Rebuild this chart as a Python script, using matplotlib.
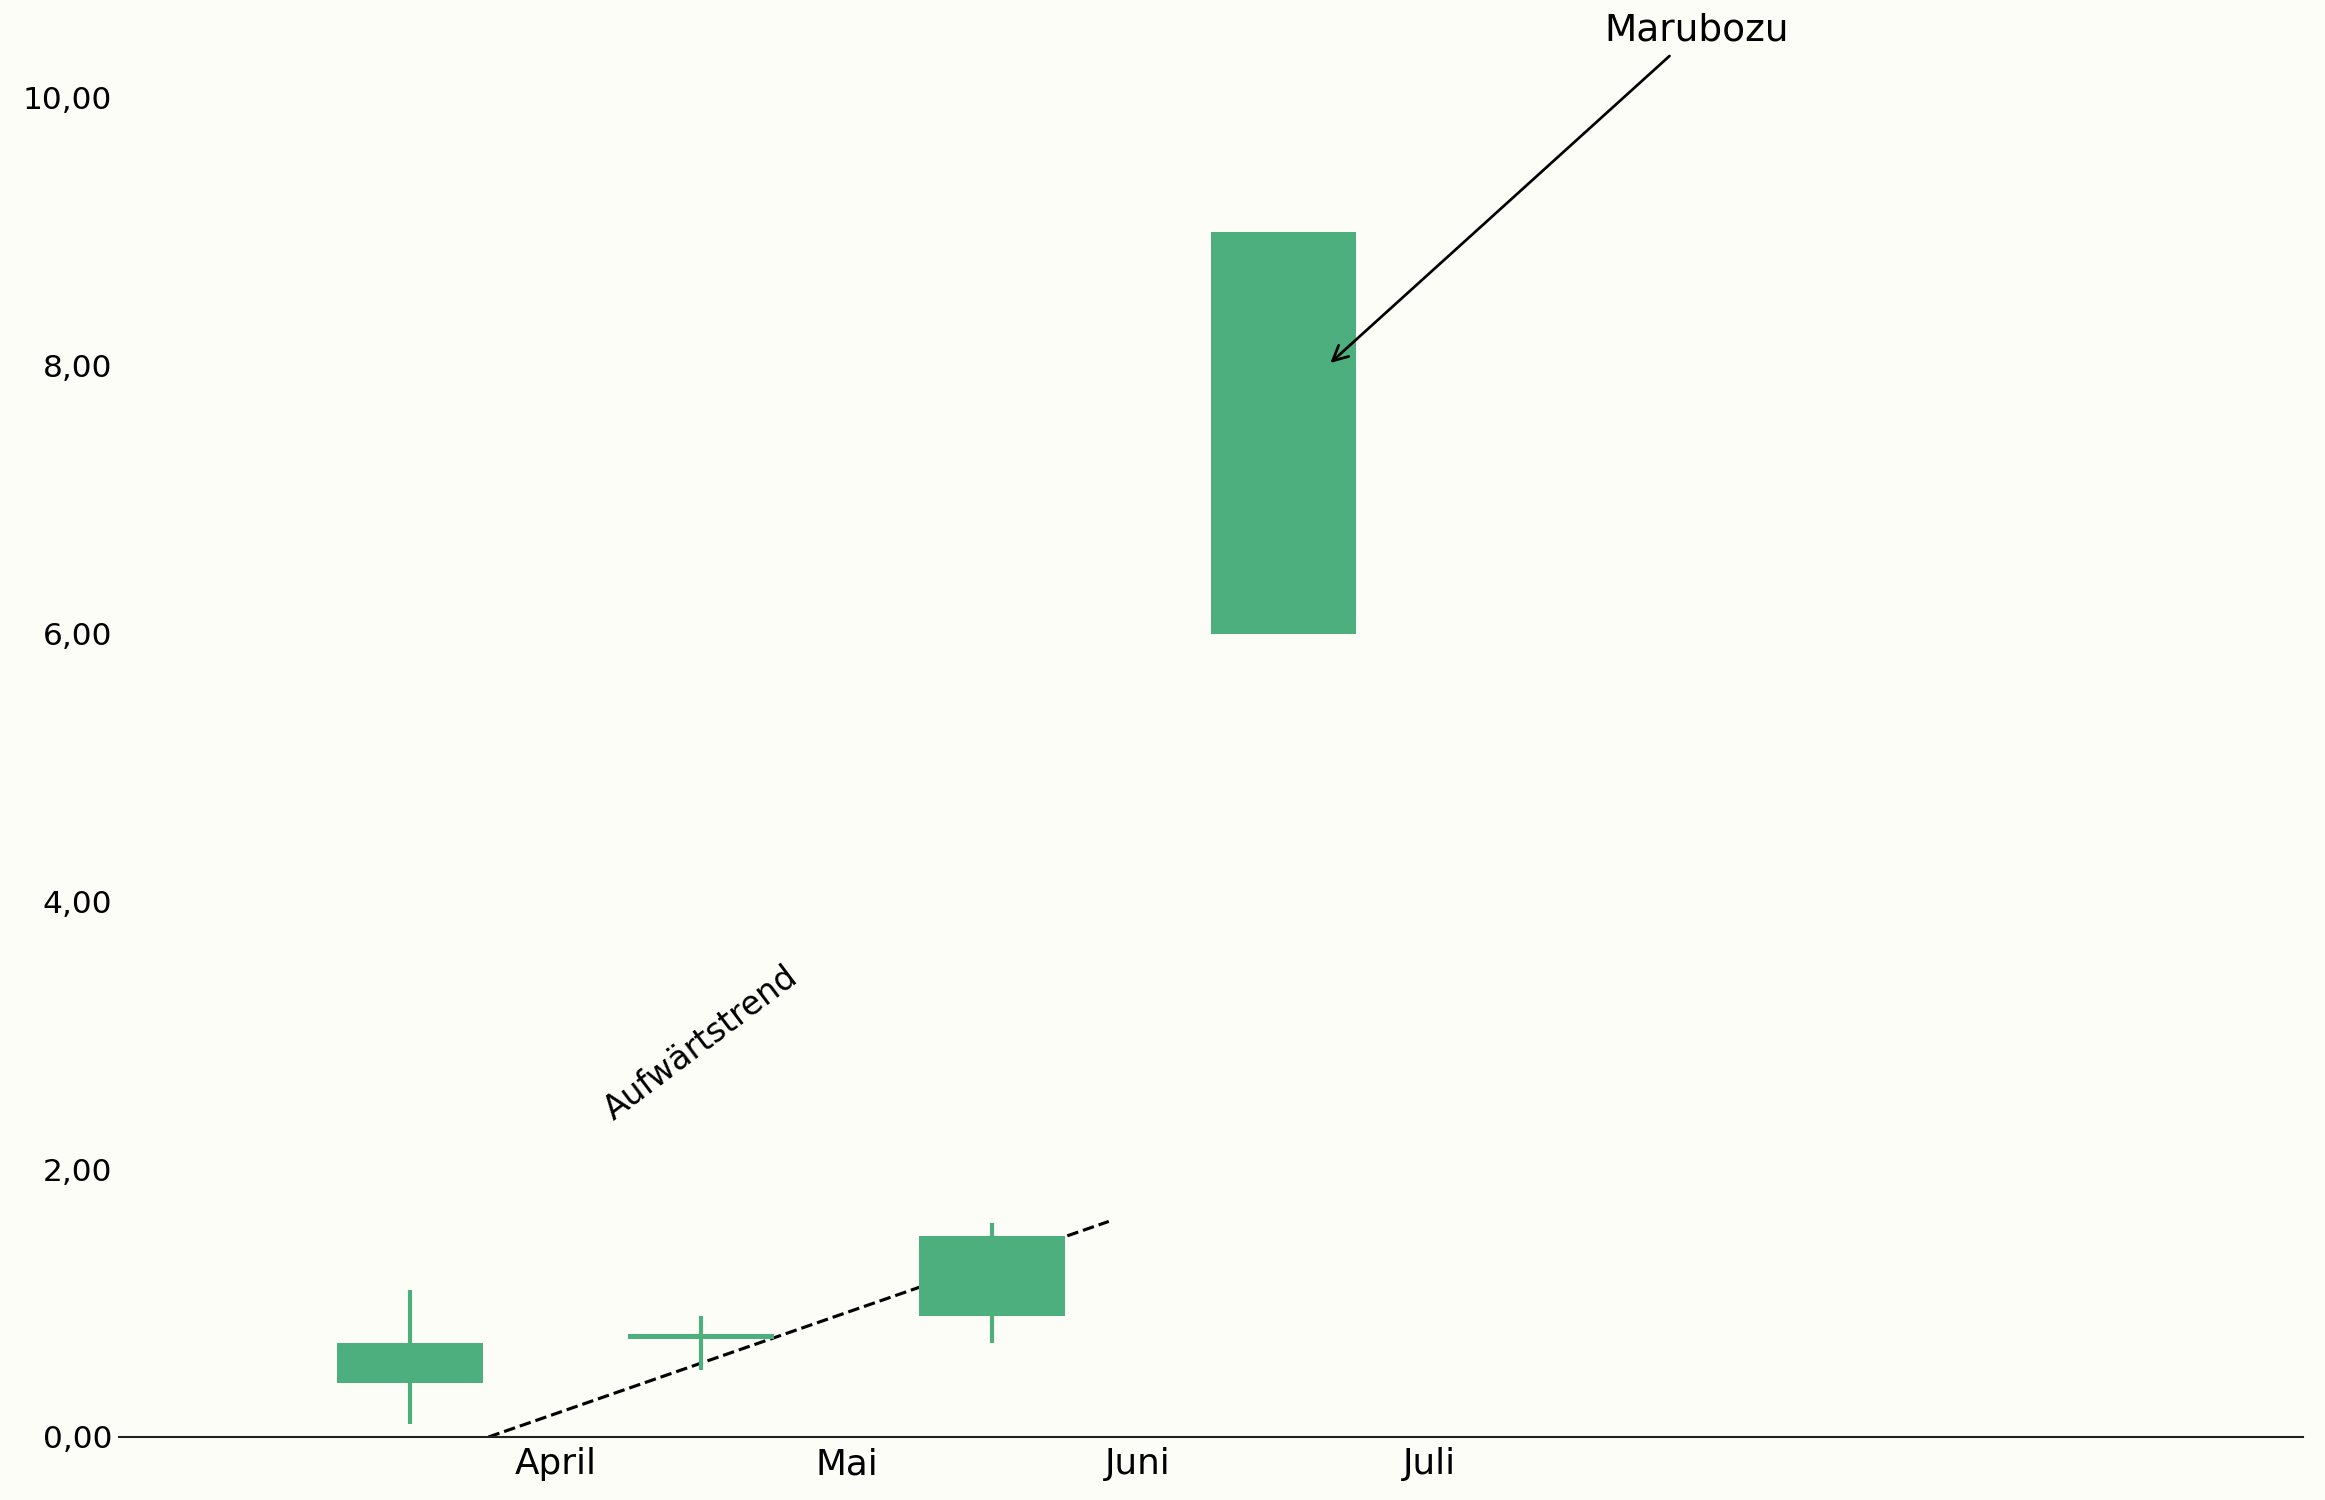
import matplotlib
matplotlib.use("Agg")
import matplotlib.pyplot as plt
from matplotlib.ticker import FuncFormatter

# ---- data ----
positions = [0, 1, 2, 3]
opens = [0.40, 0.73, 0.90, 6.00]
closes = [0.70, 0.77, 1.50, 9.00]
lows = [0.10, 0.50, 0.70, 6.00]
highs = [1.10, 0.90, 1.60, 9.00]
month_ticks = [0.5, 1.5, 2.5, 3.5]
month_labels = ["April", "Mai", "Juni", "Juli"]
y_ticks = [0, 2, 4, 6, 8, 10]
trend_x = [0.27, 2.40]
trend_y = [0.0, 1.61]

green = "#4daf7e"
bg = "#fdfdf8"

plt.rcParams["font.family"] = ["DejaVu Sans"]
plt.rcParams["font.size"] = 15

fig = plt.figure(figsize=(15.5, 10), dpi=150, facecolor=bg)
ax = fig.add_axes([0.051, 0.042, 0.9395, 0.8927])
ax.set_facecolor(bg)

# trend line (behind candles)
ax.plot(trend_x, trend_y, linestyle="--", color="black", lw=1.5, zorder=1)

# wicks
ax.vlines(positions, lows, highs, color=green, lw=2.0, zorder=2)
# bodies
heights = [c - o for o, c in zip(opens, closes)]
ax.bar(positions, heights, bottom=opens, width=0.5, color=green, zorder=3)

ax.set_xlim(-1, 6.5)
ax.set_ylim(0, 10)

ax.set_xticks(month_ticks)
ax.set_xticklabels(month_labels, fontsize=17.2)
ax.set_yticks(y_ticks)
ax.yaxis.set_major_formatter(FuncFormatter(lambda v, p: f"{v:.2f}".replace(".", ",")))
ax.tick_params(axis="both", length=0)
ax.tick_params(axis="y", labelsize=15, pad=3)
ax.tick_params(axis="x", pad=5)

for s in ["top", "right", "left"]:
    ax.spines[s].set_visible(False)
ax.spines["bottom"].set_color("#222222")
ax.spines["bottom"].set_linewidth(1.0)

ax.annotate("Marubozu", xy=(3.15, 8.0), xytext=(4.42, 10.5),
            ha="center", va="center", fontsize=18,
            arrowprops=dict(arrowstyle="->", color="black", lw=1.3),
            annotation_clip=False)

ax.text(1.0, 2.94, "Aufwärtstrend", rotation=37, ha="center", va="center",
        fontsize=15.8, rotation_mode="anchor")

fig.savefig("out.png", dpi=150, facecolor=bg)
